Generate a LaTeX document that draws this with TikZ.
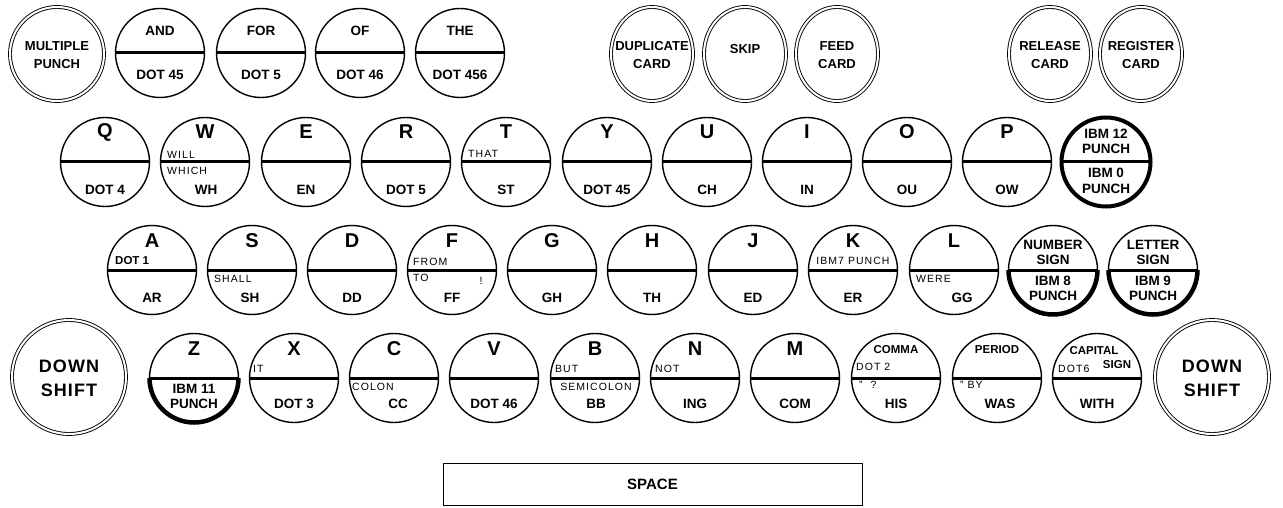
\documentclass[tikz,border=0pt]{standalone}
\usepackage{fontspec}
\setmainfont{Liberation Sans}
\newfontfamily\smallf[LetterSpace=10]{Liberation Sans}
\newfontfamily\wideb[LetterSpace=6]{Liberation Sans}
\usetikzlibrary{shapes.geometric}
\newcommand\keyc[3]{\node[key] (#1) at (#2,#3) {};\draw[divider] (#1.west) -- (#1.east);}
\begin{document}
\begin{tikzpicture}[x=1pt,y=-1pt,
  key/.style={circle, draw, line width=1.4pt, minimum size=89pt, inner sep=0pt, outer sep=0pt},
  thickkey/.style={key, line width=4pt},
  divider/.style={line width=3pt},
  halfrim/.style={line width=4.5pt},
  dkey/.style={circle, draw, double, double distance=2pt, line width=0.9pt, inner sep=0pt, outer sep=0pt},
  dell/.style={ellipse, draw, double, double distance=2pt, line width=0.9pt, inner sep=0pt, outer sep=0pt, minimum width=82pt, minimum height=94pt},
  big/.style={font=\bfseries\fontsize{20}{20}\selectfont, inner sep=0pt},
  lab/.style={font=\bfseries\fontsize{13.5}{13.5}\selectfont, inner sep=0pt},
  mid/.style={font=\bfseries\fontsize{13}{13}\selectfont, inner sep=0pt},
  smb/.style={font=\bfseries\fontsize{11.5}{11.5}\selectfont, inner sep=0pt},
  shiftf/.style={font=\wideb\bfseries\fontsize{18}{18}\selectfont, inner sep=0pt},
  tiny/.style={font=\smallf\fontsize{10.5}{10.5}\selectfont, inner sep=0pt},
  tinyl/.style={tiny, anchor=west},
  spacebar/.style={draw, line width=1pt, minimum width=419pt, minimum height=42pt, inner sep=0pt, font=\bfseries\fontsize{15}{15}\selectfont}
]
\fill[white] (0,0) rectangle (1283,508);
\useasboundingbox (0,0) rectangle (1283,508);

% ---------- row 1 ----------
\node[dkey, minimum size=94pt] (mp) at (57,54) {};
\node[mid] (mp1) at (57,46) {MULTIPLE};
\node[mid] (mp2) at (57,64) {PUNCH};
\keyc{and}{160}{53}
\node[lab] (and-t) at (160,31) {AND};
\node[lab] (and-b) at (160,75) {DOT 45};
\keyc{for}{261}{53}
\node[lab] (for-t) at (261,31) {FOR};
\node[lab] (for-b) at (261,75) {DOT 5};
\keyc{of}{360}{53}
\node[lab] (of-t) at (360,31) {OF};
\node[lab] (of-b) at (360,75) {DOT 46};
\keyc{the}{460}{53}
\node[lab] (the-t) at (460,31) {THE};
\node[lab] (the-b) at (460,75) {DOT 456};

\node[dell] (dup) at (652,54) {};
\node[mid] (dup1) at (652,46) {DUPLICATE};
\node[mid] (dup2) at (652,64) {CARD};
\node[dell] (skip) at (745,54) {};
\node[mid] (skip1) at (745,49) {SKIP};
\node[dell] (feed) at (837,54) {};
\node[mid] (feed1) at (837,46) {FEED};
\node[mid] (feed2) at (837,64) {CARD};
\node[dell] (rel) at (1050,54) {};
\node[mid] (rel1) at (1050,46) {RELEASE};
\node[mid] (rel2) at (1050,64) {CARD};
\node[dell] (reg) at (1141,54) {};
\node[mid] (reg1) at (1141,46) {REGISTER};
\node[mid] (reg2) at (1141,64) {CARD};

% ---------- row 2 ----------
\keyc{q}{105}{162}
\node[big] (q-t) at (105,132) {Q};
\node[lab] (q-b) at (105,190) {DOT 4};
\keyc{w}{205}{162}
\node[big] (w-t) at (205,132) {W};
\node[tinyl] (w-1) at (167,155) {WILL};
\node[tinyl] (w-2) at (167,171) {WHICH};
\node[lab] (w-b) at (206,190) {WH};
\keyc{e}{306}{162}
\node[big] (e-t) at (306,132) {E};
\node[lab] (e-b) at (306,190) {EN};
\keyc{r}{406}{162}
\node[big] (r-t) at (406,132) {R};
\node[lab] (r-b) at (406,190) {DOT 5};
\keyc{t}{506}{162}
\node[big] (t-t) at (506,132) {T};
\node[tinyl] (t-1) at (468,154) {THAT};
\node[lab] (t-b) at (506,190) {ST};
\keyc{y}{607}{162}
\node[big] (y-t) at (607,132) {Y};
\node[lab] (y-b) at (607,190) {DOT 45};
\keyc{u}{707}{162}
\node[big] (u-t) at (707,132) {U};
\node[lab] (u-b) at (707,190) {CH};
\keyc{i}{807}{162}
\node[big] (i-t) at (807,132) {I};
\node[lab] (i-b) at (807,190) {IN};
\keyc{o}{907}{162}
\node[big] (o-t) at (907,132) {O};
\node[lab] (o-b) at (907,190) {OU};
\keyc{p}{1007}{162}
\node[big] (p-t) at (1007,132) {P};
\node[lab] (p-b) at (1007,190) {OW};
\node[thickkey] (ibm) at (1106,162) {};
\draw[divider] (ibm.west) -- (ibm.east);
\node[lab] (ibm-1) at (1106,134) {IBM 12};
\node[lab] (ibm-2) at (1106,149) {PUNCH};
\node[lab] (ibm-3) at (1106,173) {IBM 0};
\node[lab] (ibm-4) at (1106,189) {PUNCH};

% ---------- row 3 ----------
\keyc{a}{152}{270}
\node[big] (a-t) at (152,241) {A};
\node[smb, anchor=west] (a-1) at (115,261) {DOT 1};
\node[lab] (a-b) at (152,298) {AR};
\keyc{s}{252}{270}
\node[big] (s-t) at (252,241) {S};
\node[tinyl] (s-1) at (214,279) {SHALL};
\node[lab] (s-b) at (250,298) {SH};
\keyc{d}{352}{270}
\node[big] (d-t) at (352,241) {D};
\node[lab] (d-b) at (352,298) {DD};
\keyc{f}{452}{270}
\node[big] (f-t) at (452,241) {F};
\node[tinyl] (f-1) at (413,262) {FROM};
\node[tinyl] (f-2) at (413,278) {TO};
\node[tiny] (f-3) at (481,281) {!};
\node[lab] (f-b) at (452,298) {FF};
\keyc{g}{552}{270}
\node[big] (g-t) at (552,241) {G};
\node[lab] (g-b) at (552,298) {GH};
\keyc{h}{652}{270}
\node[big] (h-t) at (652,241) {H};
\node[lab] (h-b) at (652,298) {TH};
\keyc{j}{753}{270}
\node[big] (j-t) at (753,241) {J};
\node[lab] (j-b) at (753,298) {ED};
\keyc{k}{853}{270}
\node[big] (k-t) at (853,241) {K};
\node[tiny] (k-1) at (853,261) {IBM7 PUNCH};
\node[lab] (k-b) at (853,298) {ER};
\keyc{l}{954}{270}
\node[big] (l-t) at (954,241) {L};
\node[tinyl] (l-1) at (916,279) {WERE};
\node[lab] (l-b) at (962,298) {GG};
\keyc{num}{1053}{270}
\draw[halfrim] (num.west) arc[start angle=180, end angle=360, radius=44.5pt];
\node[lab] (num-1) at (1053,245) {NUMBER};
\node[lab] (num-2) at (1053,260) {SIGN};
\node[lab] (num-3) at (1053,281) {IBM 8};
\node[lab] (num-4) at (1053,296) {PUNCH};
\keyc{let}{1153}{270}
\draw[halfrim] (let.west) arc[start angle=180, end angle=360, radius=44.5pt];
\node[lab] (let-1) at (1153,245) {LETTER};
\node[lab] (let-2) at (1153,260) {SIGN};
\node[lab] (let-3) at (1153,281) {IBM 9};
\node[lab] (let-4) at (1153,296) {PUNCH};

% ---------- row 4 ----------
\node[dkey, minimum size=114pt] (dsl) at (69,377) {};
\node[shiftf] (dsl-1) at (69,366) {DOWN};
\node[shiftf] (dsl-2) at (69,390) {SHIFT};
\keyc{z}{194}{378}
\draw[halfrim] (z.west) arc[start angle=180, end angle=360, radius=44.5pt];
\node[big] (z-t) at (194,349) {Z};
\node[lab] (z-1) at (194,389) {IBM 11};
\node[lab] (z-2) at (194,404) {PUNCH};
\keyc{x}{294}{378}
\node[big] (x-t) at (294,349) {X};
\node[tinyl] (x-1) at (253,369) {IT};
\node[lab] (x-b) at (294,404) {DOT 3};
\keyc{c}{394}{378}
\node[big] (c-t) at (394,349) {C};
\node[tinyl] (c-1) at (352,387) {COLON};
\node[lab] (c-b) at (398,404) {CC};
\keyc{v}{494}{378}
\node[big] (v-t) at (494,349) {V};
\node[lab] (v-b) at (494,404) {DOT 46};
\keyc{b}{595}{378}
\node[big] (b-t) at (595,349) {B};
\node[tinyl] (b-1) at (555,369) {BUT};
\node[tiny] (b-2) at (596,387) {SEMICOLON};
\node[lab] (b-b) at (596,404) {BB};
\keyc{n}{695}{378}
\node[big] (n-t) at (695,349) {N};
\node[tinyl] (n-1) at (655,369) {NOT};
\node[lab] (n-b) at (695,404) {ING};
\keyc{m}{795}{378}
\node[big] (m-t) at (795,349) {M};
\node[lab] (m-b) at (795,404) {COM};
\keyc{com}{896}{378}
\node[smb] (com-t) at (896,350) {COMMA};
\node[tinyl] (com-1) at (856,367) {DOT 2};
\node[tinyl] (com-2) at (859,385) {” \ ?};
\node[lab] (com-b) at (896,404) {HIS};
\keyc{per}{997}{378}
\node[smb] (per-t) at (997,350) {PERIOD};
\node[tinyl] (per-1) at (960,385) {” BY};
\node[lab] (per-b) at (1000,404) {WAS};
\keyc{cap}{1097}{378}
\node[smb] (cap-t) at (1094,351) {CAPITAL};
\node[smb] (cap-2) at (1117,365) {SIGN};
\node[tinyl] (cap-1) at (1058,369) {DOT6};
\node[lab] (cap-b) at (1097,404) {WITH};
\node[dkey, minimum size=114pt] (dsr) at (1212,377) {};
\node[shiftf] (dsr-1) at (1212,366) {DOWN};
\node[shiftf] (dsr-2) at (1212,390) {SHIFT};

% ---------- space bar ----------
\node[spacebar] (space) at (652.5,484) {SPACE};
\end{tikzpicture}
\end{document}
